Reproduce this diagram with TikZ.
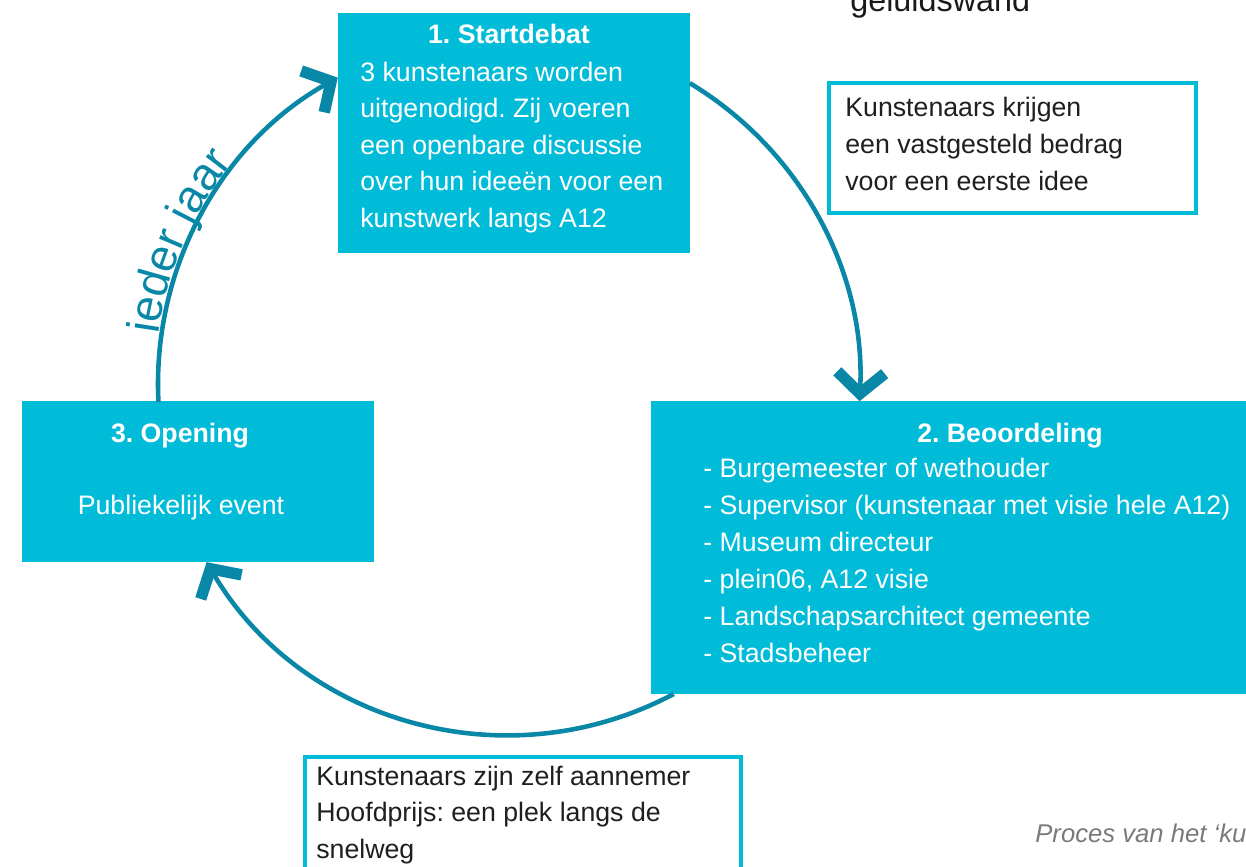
\documentclass[tikz,border=0pt]{standalone}
\usepackage{fontspec}
\setmainfont{Liberation Sans}
\usetikzlibrary{arrows.meta,decorations.text,calc,fit}
\definecolor{boxcyan}{HTML}{00BCD8}
\definecolor{arcteal}{HTML}{0888A6}
\definecolor{captgray}{HTML}{7A7A7A}
\frenchspacing
\begin{document}
\frenchspacing
\begin{tikzpicture}[x=0.02cm,y=-0.02cm,
  fillbox/.style={fill=boxcyan, draw=none, inner sep=0pt},
  outlinebox/.style={draw=boxcyan, line width=2.3pt, fill=white, inner sep=0pt},
  txt/.style={anchor=base west, inner sep=0pt, font=\fontsize{15.2}{18}\selectfont},
  wtxt/.style={txt, text=white},
  btxt/.style={txt, text=black!88},
  ttl/.style={anchor=base, inner sep=0pt, text=white, font=\fontsize{15.2}{18}\selectfont\bfseries},
  cyc/.style={draw=arcteal, line width=2.6pt,
    -{Straight Barb[length=12pt, width=27pt, line width=6.5pt, sharp]}}
]
\useasboundingbox (0,0) rectangle (1246,866);
\clip (0,0) rectangle (1246,866);
\coordinate (c) at (509,384);

% boxes
\node[fillbox, fit={(338,13) (690,253)}] (b1) {};
\node[fillbox, fit={(651,401) (1250,694)}] (b2) {};
\node[fillbox, fit={(22,401) (374,562)}] (b3) {};
\node[outlinebox, fit={(829,83) (1196,213)}] (n1) {};
\node[outlinebox, fit={(305,757) (741,880)}] (n2) {};

% cycle arcs
\draw[cyc] ($(c)+(177:351)$) arc[start angle=177, end angle=240.8, radius=351];
\draw[cyc] ($(c)+(-59:351)$) arc[start angle=-59, end angle=2.8, radius=351];
\draw[cyc] ($(c)+(62:351)$) arc[start angle=62, end angle=149.5, radius=351];

% curved label
\path[decorate, decoration={text along path,
   text={|\fontsize{26}{30}\selectfont|ieder jaar}, text align=left, text color=arcteal}]
  ($(c)+(188:354)$) arc[start angle=188, end angle=240, radius=354];

% box 1
\node[ttl] (t1) at (509,43) {1. Startdebat};
\foreach \t [count=\i] in {3 kunstenaars worden, uitgenodigd. Zij voeren,
  een openbare discussie, over hun ideeën voor een, kunstwerk langs A12}
  \node[wtxt] (a\i) at (360,{81+36.6*(\i-1)}) {\t};

% box 2
\node[ttl] (t2) at (1010,442) {2. Beoordeling};
\foreach \t [count=\i] in {- Burgemeester of wethouder,
  - Supervisor (kunstenaar met visie hele A12), - Museum directeur,
  {- plein06, A12 visie}, - Landschapsarchitect gemeente, - Stadsbeheer}
  \node[wtxt] (m\i) at (703,{477+37*(\i-1)}) {\t};

% box 3
\node[ttl] (t3) at (180,442) {3. Opening};
\node[anchor=base, inner sep=0pt, text=white, font=\fontsize{15.2}{18}\selectfont] (p3) at (181,514) {Publiekelijk event};

% note 1
\foreach \t [count=\i] in {Kunstenaars krijgen, een vastgesteld bedrag, voor een eerste idee}
  \node[btxt] (k\i) at (845,{116+37*(\i-1)}) {\t};

% note 2
\foreach \t [count=\i] in {Kunstenaars zijn zelf aannemer, Hoofdprijs: een plek langs de, snelweg}
  \node[btxt] (h\i) at (316,{785+36.5*(\i-1)}) {\t};

% cut-off texts
\node[anchor=base west, inner sep=0pt, text=black!90, font=\fontsize{18.4}{22}\selectfont] (g) at (850,11) {geluidswand};
\node[anchor=base west, inner sep=0pt, text=captgray, font=\fontsize{14.6}{18}\selectfont\itshape] (cap) at (1035,842) {Proces van het ‘kunst langs de A12’};
\end{tikzpicture}
\end{document}
